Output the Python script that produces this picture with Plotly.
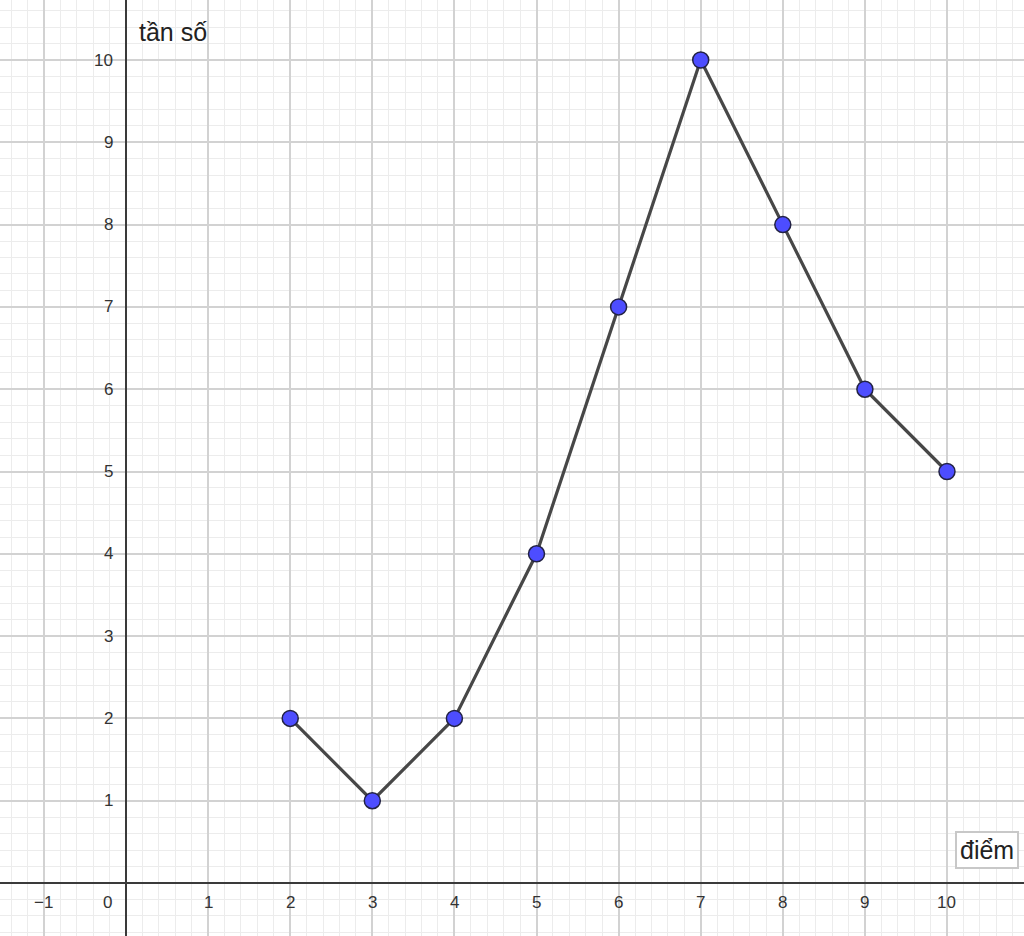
import plotly.graph_objects as go

# data
diem = [2, 3, 4, 5, 6, 7, 8, 9, 10]
tan_so = [2, 1, 2, 4, 7, 10, 8, 6, 5]

x_tick_vals = [-1, 1, 2, 3, 4, 5, 6, 7, 8, 9, 10]
x_tick_text = ["\u22121", "1", "2", "3", "4", "5", "6", "7", "8", "9", "10"]
y_tick_vals = [1, 2, 3, 4, 5, 6, 7, 8, 9, 10]

FONT = "Liberation Sans, Arial, sans-serif"
X_RANGE = [-1.535, 10.938]
Y_RANGE = [-0.644, 10.729]

fig = go.Figure()

fig.add_trace(
    go.Scatter(
        x=diem, y=tan_so,
        mode="lines+markers",
        line=dict(color="#474747", width=3.2),
        marker=dict(size=16, color="#4d4dff", line=dict(color="#222244", width=1.5)),
        showlegend=False,
    )
)

annotations = []
for v, t in zip(x_tick_vals, x_tick_text):
    annotations.append(dict(
        x=v, y=0, text=t, showarrow=False, yshift=-19,
        font=dict(family=FONT, size=17, color="#333333"),
    ))
# origin label sits below-left of the origin
annotations.append(dict(
    x=0, y=0, text="0", showarrow=False, xshift=-19, yshift=-19,
    font=dict(family=FONT, size=17, color="#333333"),
))
for v in y_tick_vals:
    annotations.append(dict(
        x=0, y=v, text=str(v), showarrow=False, xanchor="right", xshift=-11,
        font=dict(family=FONT, size=17, color="#333333"),
    ))

annotations.append(dict(
    x=0.13, y=10.34, text="tần số", showarrow=False, xanchor="left",
    font=dict(family=FONT, size=25, color="#222222"),
))
annotations.append(dict(
    x=10.49, y=0.40, text="điểm", showarrow=False,
    font=dict(family=FONT, size=25, color="#222222"),
    bgcolor="white", bordercolor="#c8c8c8", borderwidth=2, borderpad=3,
))

axis_common = dict(
    dtick=1, tick0=0,
    showgrid=True, gridcolor="#d2d2d2", gridwidth=1.5,
    minor=dict(dtick=0.2, tick0=0, showgrid=True, gridcolor="#ececec", gridwidth=1),
    zeroline=True, zerolinecolor="#3a3a3a", zerolinewidth=2,
    showticklabels=False, ticks="", showline=False,
    fixedrange=True,
)

fig.update_layout(
    width=1024, height=936,
    margin=dict(l=0, r=0, t=0, b=0),
    paper_bgcolor="white", plot_bgcolor="white",
    xaxis=dict(range=X_RANGE, **axis_common),
    yaxis=dict(range=Y_RANGE, **axis_common),
    annotations=annotations,
)

# let the figure fill the window edge to edge
fig.write_html(
    "out.html",
    config={"displayModeBar": False},
    post_script="document.body.style.margin='0';",
)
